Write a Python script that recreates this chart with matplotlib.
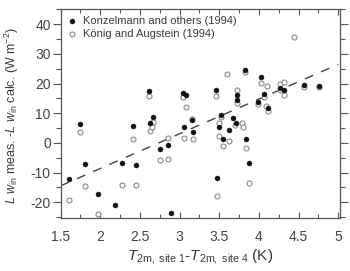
import matplotlib
matplotlib.use("Agg")
import matplotlib.pyplot as plt
import numpy as np

plt.rcParams['font.family'] = ['Liberation Sans', 'DejaVu Sans']
plt.rcParams['mathtext.fontset'] = 'custom'
plt.rcParams['mathtext.rm'] = 'Liberation Sans'
plt.rcParams['mathtext.it'] = 'Liberation Sans:italic'
plt.rcParams['axes.unicode_minus'] = False

# Konzelmann and others (1994) -- filled
konz_x = [1.61, 1.74, 1.81, 1.97, 2.18, 2.28, 2.41, 2.45, 2.61, 2.63, 2.67, 2.75, 2.86, 2.89,
          3.04, 3.08, 3.05, 3.16, 3.17, 3.46, 3.52, 3.50, 3.62, 3.55, 3.47, 3.67, 3.71, 3.73,
          3.73, 3.83, 3.84, 3.87, 3.99, 4.02, 4.07, 4.11, 4.27, 4.32, 4.57, 4.76]
konz_y = [-12.2, 6.4, -7.1, -17.3, -20.8, -6.9, 5.7, -7.3, 17.4, 6.7, 8.7, -1.9, -0.8, -23.7,
          16.8, 16.2, 5.5, 7.6, 3.7, 17.7, 9.5, 5.5, 4.4, 1.3, -11.7, 8.4, 6.7, 16.2,
          14.3, 24.7, 1.3, -6.8, 13.9, 22.2, 16.5, 11.8, 18.5, 17.9, 19.6, 19.3]

# Koenig and Augstein (1994) -- open
koen_x = [1.61, 1.74, 1.81, 1.97, 2.28, 2.41, 2.45, 2.61, 2.63, 2.65, 2.67, 2.75, 2.85, 2.86,
          3.04, 3.08, 3.05, 3.16, 3.17, 3.46, 3.52, 3.50, 3.62, 3.55, 3.47, 3.60, 3.70, 3.79,
          3.80, 3.73, 3.73, 3.83, 3.84, 3.87, 3.99, 4.02, 4.07, 4.09, 4.10, 4.11, 4.27, 4.32,
          4.27, 4.32, 4.44, 4.57, 4.76, 3.50]
koen_y = [-19.4, 3.6, -14.4, -24.0, -14.1, 1.3, -14.1, 15.9, 3.9, 5.5, 7.2, -5.7, 1.8, -5.3,
          15.4, 12.2, 1.6, 8.2, 1.3, 15.8, 8.7, 6.7, 0.5, -1.0, -17.9, 23.1, 5.9, 6.7,
          5.5, 17.9, 13.3, 23.9, -1.6, -13.6, 13.0, 20.2, 15.4, 12.5, 19.3, 10.6, 19.9, 20.6,
          17.9, 16.2, 35.6, 18.7, 18.7, 2.4]

# dashed fit line (end points)
fit_x = [1.5, 5.0]
fit_y = [-14.5, 26.5]

labels = ['Konzelmann and others (1994)', 'König and Augstein (1994)']
x_ticks = [1.5, 2, 2.5, 3, 3.5, 4, 4.5, 5]
x_ticklabels = ['1.5', '2', '2.5', '3', '3.5', '4', '4.5', '5']
y_ticks = [-20, -10, 0, 10, 20, 30, 40]

fig = plt.figure(figsize=(3.5, 2.71), dpi=100)
ax = fig.add_axes([0.173, 0.196, 0.798, 0.769])

gray = '#3a3a3a'
ax.plot(fit_x, fit_y, color='#444444', lw=1.0, dashes=(6.5, 6.3), zorder=1)
ax.scatter(koen_x, koen_y, s=13, facecolors='white', edgecolors='#8a8a8a', linewidths=0.8,
           zorder=2, label=labels[1])
ax.scatter(konz_x, konz_y, s=13, facecolors='#111111', edgecolors='#111111', linewidths=0.3,
           zorder=3, label=labels[0])

ax.set_xlim(1.5, 5.02)
ax.set_ylim(-25.3, 45)
ax.set_xticks(x_ticks)
ax.set_xticklabels(x_ticklabels)
ax.set_xticks(np.arange(1.75, 5.0, 0.5), minor=True)
ax.set_yticks(y_ticks)
ax.set_yticks(np.arange(-25, 46, 10), minor=True)

ax.tick_params(axis='x', which='both', direction='in', top=True, bottom=True,
               labelsize=10, labelcolor='#444444', color='#555555', pad=9)
ax.tick_params(axis='x', which='major', length=4, width=0.8)
ax.tick_params(axis='x', which='minor', length=3, width=0.8)
ax.tick_params(axis='y', which='both', direction='out', left=True, right=True,
               labelsize=10, labelcolor='#444444', color='#555555', pad=1)
ax.tick_params(axis='y', which='major', length=6, width=0.8)
ax.tick_params(axis='y', which='minor', length=3.5, width=0.8)

for sp in ax.spines.values():
    sp.set_color('#555555')
    sp.set_linewidth(0.9)

handles, labs = ax.get_legend_handles_labels()
order = [1, 0]
leg = ax.legend([handles[i] for i in order], [labs[i] for i in order], loc='upper left',
                frameon=False, fontsize=8, handletextpad=0.6, borderaxespad=0.2,
                labelspacing=0.25, handlelength=0.8, borderpad=0.4, labelcolor=gray)

ax.set_xlabel(r'$T_{\mathrm{2m,\ site\ 1}}$-$T_{\mathrm{2m,\ site\ 4}}$ (K)',
              fontsize=11, color=gray, labelpad=2)
ax.set_ylabel(r'$L\ w_{\mathrm{in}}$ meas. -$L\ w_{\mathrm{in}}$ calc. (W m$^{-2}$)',
              fontsize=9, color=gray)
ax.yaxis.set_label_coords(-0.142, 0.49)

fig.savefig('out.png', dpi=100, facecolor='white')
